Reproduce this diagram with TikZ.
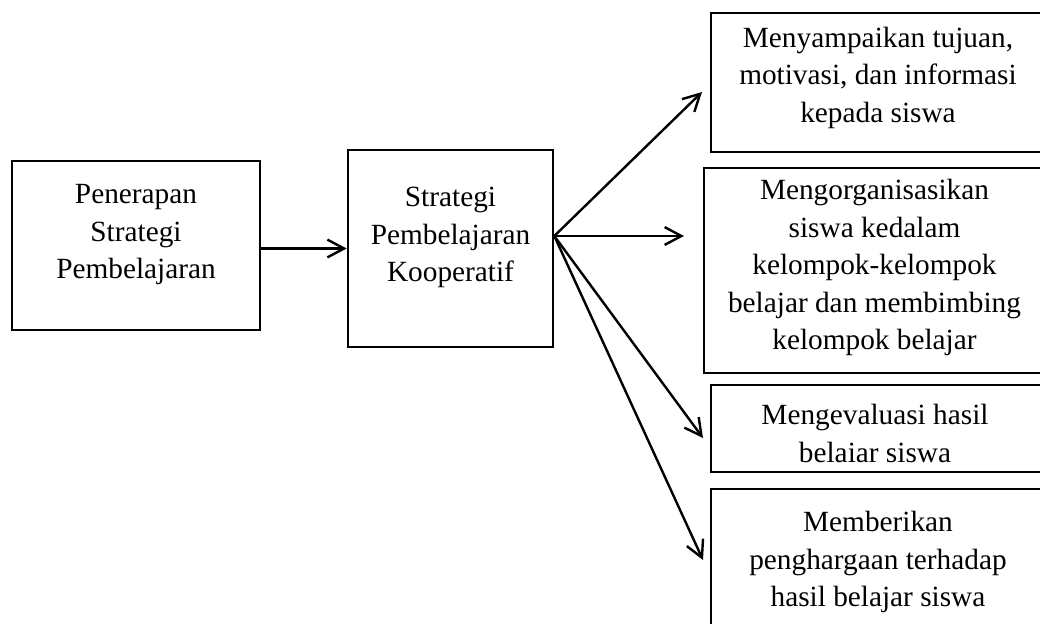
\documentclass[tikz,border=0pt]{standalone}
\usepackage{fontspec}
\setmainfont{Liberation Serif}
\usetikzlibrary{arrows.meta, positioning}

\begin{document}
\begin{tikzpicture}[x=0.5pt, y=-0.5pt,
    kotak/.style={draw, line width=1.3pt, inner sep=0pt},
    isi/.style={align=center, inner sep=0pt, font=\fontsize{14.65}{18.75}\selectfont},
    panah/.style={-{Straight Barb[length=8.4pt, width=8.9pt]}, line width=1.2pt}]
        \clip (0,0) rectangle (1040,624);
        % Kotak kiri
        \node[kotak, minimum width=124pt, minimum height=84.5pt] (pen) at (136,245.5) {};
        \node[isi] (pen-t) at ([yshift=5.25pt]pen.center) {Penerapan\\Strategi\\Pembelajaran};
        \node[kotak, minimum width=102.5pt, minimum height=98.5pt] (sk) at (450.5,248.5) {};
        \node[isi] (sk-t) at ([yshift=5.5pt]sk.center) {Strategi\\Pembelajaran\\Kooperatif};
        % Kotak kanan
        \node[kotak, minimum width=167pt, minimum height=69.5pt] (ta) at (878,82.5) {};
        \node[isi] (ta-t) at ([yshift=2.5pt]ta.center) {Menyampaikan tujuan,\\motivasi, dan informasi\\kepada siswa};
        \node[kotak, minimum width=170.5pt, minimum height=102.5pt] (tb) at (874.5,270.5) {};
        \node[isi] (tb-t) at ([yshift=1.5pt]tb.center) {Mengorganisasikan\\siswa kedalam\\kelompok-kelompok\\belajar dan membimbing\\kelompok belajar};
        \node[kotak, minimum width=167pt, minimum height=43.5pt] (tc) at (878,428.5) {};
        \node[isi] (tc-t) at ([xshift=-1.5pt, yshift=-2.4pt]tc.center) {Mengevaluasi hasil\\belaiar siswa};
        \node[kotak, minimum width=167pt, minimum height=73pt] (td) at (878,562) {};
        \node[isi] (td-t) at (td.center) {Memberikan\\penghargaan terhadap\\hasil belajar siswa};
        % Panah
        \coordinate (fan) at ([yshift=6.25pt]sk.east);
        \coordinate (ujung-a) at (702,92);
        \coordinate (ujung-b) at (684,236);
        \coordinate (ujung-c) at (703,438);
        \coordinate (ujung-d) at (703,560);
        \draw[panah] (pen.east |- sk.west) -- (sk.west);
        \draw[panah] (fan) -- (ujung-a);
        \draw[panah] (fan) -- (ujung-b);
        \draw[panah] (fan) -- (ujung-c);
        \draw[panah] (fan) -- (ujung-d);
    \end{tikzpicture}
\end{document}
